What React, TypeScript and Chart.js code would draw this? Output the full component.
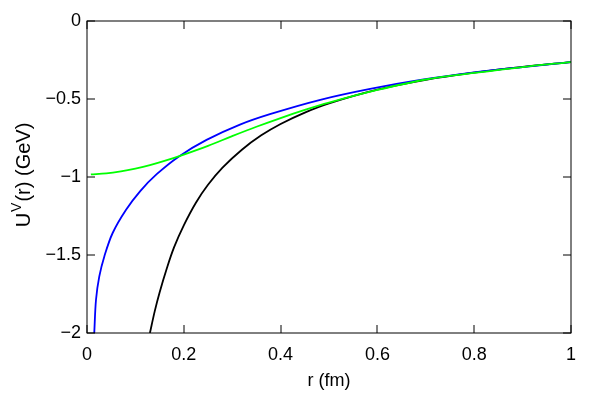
import React, { useEffect, useRef } from "react";
import { Chart, registerables } from "chart.js";

Chart.register(...registerables);

// Black curve
const blackR = [0.13, 0.14, 0.15, 0.165, 0.18, 0.2, 0.225, 0.25, 0.28, 0.32, 0.36, 0.4, 0.45, 0.5, 0.6, 0.7, 0.8, 0.9, 1.0];
const blackU = [-2.0, -1.86, -1.74, -1.585, -1.45, -1.31, -1.165, -1.05, -0.94, -0.825, -0.733, -0.66, -0.587, -0.528, -0.44, -0.377, -0.331, -0.294, -0.263];

// Blue curve
const blueR = [0.015, 0.0186, 0.0254, 0.0358, 0.053, 0.0807, 0.11, 0.144, 0.19, 0.247, 0.316, 0.378, 0.482, 0.585, 0.689, 0.8, 0.9, 1.0];
const blueU = [-2.0, -1.787, -1.637, -1.509, -1.359, -1.21, -1.09, -0.982, -0.868, -0.762, -0.664, -0.597, -0.505, -0.435, -0.378, -0.33, -0.295, -0.263];

// Green curve
const greenR = [0.008, 0.04, 0.07, 0.1, 0.13, 0.16, 0.2, 0.25, 0.3, 0.35, 0.4, 0.45, 0.5, 0.6, 0.7, 0.8, 0.9, 1.0];
const greenU = [-0.983, -0.977, -0.964, -0.946, -0.924, -0.897, -0.856, -0.8, -0.738, -0.678, -0.622, -0.57, -0.523, -0.442, -0.375, -0.333, -0.295, -0.263];

const xTicks = [0, 0.2, 0.4, 0.6, 0.8, 1];
const yTicks = [0, -0.5, -1, -1.5, -2];
const xTitle = "r (fm)";
const yTitleMain = "U";
const yTitleSup = "V";
const yTitleRest = "(r) (GeV)";

const FONT = "'Liberation Sans', Arial, sans-serif";
const FS = 18;

const toPoints = (rs: number[], us: number[]) => rs.map((r, i) => ({ x: r, y: us[i] }));
const fmt = (v: number) => (v < 0 ? "\u2212" + String(-v) : String(v));

const framePlugin = {
  id: "frame",
  afterDraw(chart: any) {
    const { ctx, chartArea: a, scales } = chart;
    ctx.save();
    ctx.strokeStyle = "#000";
    ctx.lineWidth = 1;
    ctx.strokeRect(a.left, a.top, a.right - a.left, a.bottom - a.top);
    const L = 8;
    ctx.beginPath();
    xTicks.forEach((v) => {
      const px = Math.round(scales.x.getPixelForValue(v));
      ctx.moveTo(px, a.bottom);
      ctx.lineTo(px, a.bottom - L);
      ctx.moveTo(px, a.top);
      ctx.lineTo(px, a.top + L);
    });
    yTicks.forEach((v) => {
      const py = Math.round(scales.y.getPixelForValue(v));
      ctx.moveTo(a.left, py);
      ctx.lineTo(a.left + L, py);
      ctx.moveTo(a.right, py);
      ctx.lineTo(a.right - L, py);
    });
    ctx.stroke();

    // Y axis title with superscript
    const tFS = 20;
    const supFS = 14;
    ctx.fillStyle = "#000";
    ctx.textBaseline = "middle";
    ctx.textAlign = "left";
    ctx.font = `${tFS}px ${FONT}`;
    const w1 = ctx.measureText(yTitleMain).width;
    const w3 = ctx.measureText(yTitleRest).width;
    ctx.font = `${supFS}px ${FONT}`;
    const w2 = ctx.measureText(yTitleSup).width;
    const g1 = 1;
    const g2 = 1;
    const total = w1 + w2 + w3 + g1 + g2;
    const cx = 24;
    const cy = 175;
    ctx.translate(cx, cy);
    ctx.rotate(-Math.PI / 2);
    let x0 = -total / 2;
    ctx.font = `${tFS}px ${FONT}`;
    ctx.fillText(yTitleMain, x0, 0);
    x0 += w1 + g1;
    ctx.font = `${supFS}px ${FONT}`;
    ctx.fillText(yTitleSup, x0, -7);
    x0 += w2 + g2;
    ctx.font = `${tFS}px ${FONT}`;
    ctx.fillText(yTitleRest, x0, 0);
    ctx.restore();
  },
};

export default function App() {
  const ref = useRef<HTMLCanvasElement | null>(null);
  useEffect(() => {
    if (!ref.current) return;
    const lw = 1.8;
    const common = { borderWidth: lw, pointRadius: 0, tension: 0.35, fill: false };
    const chart = new Chart(ref.current, {
      type: "line",
      data: {
        datasets: [
          { label: "green", data: toPoints(greenR, greenU), borderColor: "#00ff00", ...common },
          { label: "blue", data: toPoints(blueR, blueU), borderColor: "#0000ff", ...common },
          { label: "black", data: toPoints(blackR, blackU), borderColor: "#000000", ...common },
        ],
      },
      options: {
        responsive: false,
        animation: false,
        layout: { padding: { left: 18, right: 29, top: 21, bottom: 8 } },
        plugins: { legend: { display: false }, tooltip: { enabled: false } },
        scales: {
          x: {
            type: "linear",
            min: 0,
            max: 1,
            afterFit: (s: any) => {
              s.height = 59;
            },
            afterBuildTicks: (s: any) => {
              s.ticks = xTicks.map((v) => ({ value: v }));
            },
            grid: { display: false, drawTicks: false },
            border: { display: false },
            ticks: {
              padding: 11,
              color: "#000",
              font: { family: FONT, size: FS },
              maxRotation: 0,
              callback: (v: any) => fmt(Number(v)),
            },
            title: {
              display: true,
              text: xTitle,
              color: "#000",
              font: { family: FONT, size: FS },
              padding: { top: 4, bottom: 0 },
            },
          },
          y: {
            type: "linear",
            min: -2,
            max: 0,
            afterFit: (s: any) => {
              s.width = 69;
            },
            afterBuildTicks: (s: any) => {
              s.ticks = yTicks.map((v) => ({ value: v }));
            },
            grid: { display: false, drawTicks: false },
            border: { display: false },
            ticks: {
              padding: 6,
              color: "#000",
              font: { family: FONT, size: FS },
              callback: (v: any) => fmt(Number(v)),
            },
          },
        },
      },
      plugins: [framePlugin],
    });
    return () => chart.destroy();
  }, []);
  return (
    <div style={{ position: "absolute", left: 0, top: 0, width: 600, height: 400, background: "#fff" }}>
      <canvas ref={ref} width={600} height={400} style={{ display: "block" }} />
    </div>
  );
}
